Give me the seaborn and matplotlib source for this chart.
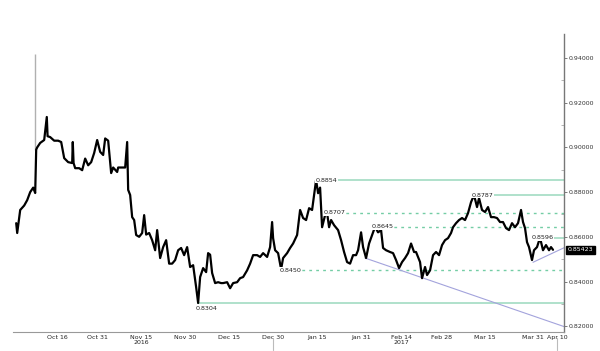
import numpy as np
import pandas as pd
import matplotlib
matplotlib.use("Agg")
import matplotlib.pyplot as plt
import matplotlib.transforms as mtrans
import seaborn as sns

# EUR/GBP path: business days after 2016-10-03 and price
start_date = "2016-10-03"
day_offset = [
    -0.25, 0, 0.75, 1.75, 2.5, 3.25, 4, 4.5, 4.75, 5, 5.75, 6.75, 7.4, 7.6, 8.25, 9.25,
    10.25, 11, 11.75, 12.75, 13.75, 13.9, 14.1, 14.5, 15.5, 16.25, 17, 17.75, 18.5, 19.25,
    20, 20.75, 21.5, 22, 22.75, 23.5, 24, 25, 25.25, 26.25, 27, 27.5, 27.75, 28.25, 28.75,
    29.25, 29.75, 30.5, 31.25, 31.75, 32.25, 33, 33.75, 34.5, 35, 35.75, 36.5, 37.25, 38,
    38.75, 39.5, 40.25, 41, 41.75, 42.5, 43.25, 44, 44.75, 45.25, 45.75, 46.5, 47.25, 47.75,
    48.25, 48.75, 49.5, 50.25, 51, 51.5, 52.5, 53.25, 54, 55, 55.75, 56.5, 57.5, 58.25, 59,
    60, 60.75, 61.5, 62.5, 63.25, 63.75, 64, 64.5, 65.25, 66, 66.5, 67.5, 68.25, 69, 70,
    70.75, 71.5, 72.25, 73, 73.75, 74.75, 75.25, 75.75, 76.25, 77, 77.5, 78, 78.5, 79.25,
    80.25, 81, 81.75, 82.5, 83.25, 84, 84.75, 85.25, 86, 86.5, 87.25, 88, 88.75, 89.5,
    90.25, 91, 91.5, 92.25, 93.25, 94, 94.75, 95.5, 96.25, 97, 97.75, 98.5, 99.25, 99.75,
    100.25, 100.75, 101.25, 102, 102.5, 103.25, 104, 104.75, 105.5, 106.25, 107, 107.75,
    108.5, 109, 109.75, 110.5, 111.25, 112, 112.75, 113.5, 114.25, 115, 115.5, 116.25, 117,
    117.75, 118.5, 119.25, 120, 120.75, 121.5, 122.25, 123, 123.75, 124.5, 125.25, 126,
    126.5, 127, 127.5, 128, 128.75, 129.25, 130, 130.75, 131.5, 132.25, 133, 133.5, 134,
]
price = [
    0.8661, 0.8617, 0.8720, 0.8740, 0.8764, 0.8800, 0.8820, 0.8796, 0.8990, 0.9000, 0.9020,
    0.9033, 0.9136, 0.9050, 0.9046, 0.9030, 0.9030, 0.9024, 0.8952, 0.8934, 0.8930, 0.9024,
    0.8930, 0.8907, 0.8907, 0.8898, 0.8950, 0.8920, 0.8934, 0.8975, 0.9033, 0.8980, 0.8966,
    0.9040, 0.9030, 0.8885, 0.8910, 0.8890, 0.8910, 0.8910, 0.8910, 0.9024, 0.8810, 0.8787,
    0.8688, 0.8675, 0.8608, 0.8600, 0.8617, 0.8697, 0.8610, 0.8617, 0.8585, 0.8540, 0.8630,
    0.8505, 0.8554, 0.8585, 0.8480, 0.8480, 0.8496, 0.8540, 0.8550, 0.8518, 0.8554, 0.8465,
    0.8473, 0.8375, 0.8304, 0.8420, 0.8460, 0.8442, 0.8527, 0.8520, 0.8438, 0.8393, 0.8397,
    0.8393, 0.8393, 0.8397, 0.8370, 0.8393, 0.8397, 0.8415, 0.8420, 0.8450, 0.8480, 0.8518,
    0.8518, 0.8510, 0.8527, 0.8510, 0.8554, 0.8666, 0.8594, 0.8540, 0.8527, 0.8455, 0.8505,
    0.8527, 0.8550, 0.8570, 0.8608, 0.8720, 0.8684, 0.8675, 0.8728, 0.8720, 0.8854, 0.8795,
    0.8820, 0.8643, 0.8697, 0.8707, 0.8643, 0.8675, 0.8652, 0.8630, 0.8585, 0.8532, 0.8487,
    0.8480, 0.8518, 0.8518, 0.8540, 0.8620, 0.8554, 0.8505, 0.8570, 0.8608, 0.8645, 0.8620,
    0.8630, 0.8550, 0.8540, 0.8532, 0.8527, 0.8496, 0.8460, 0.8487, 0.8505, 0.8527, 0.8570,
    0.8532, 0.8532, 0.8510, 0.8487, 0.8415, 0.8465, 0.8429, 0.8450, 0.8518, 0.8532, 0.8518,
    0.8563, 0.8585, 0.8594, 0.8617, 0.8643, 0.8661, 0.8675, 0.8684, 0.8675, 0.8706, 0.8755,
    0.8787, 0.8733, 0.8773, 0.8720, 0.8711, 0.8733, 0.8688, 0.8688, 0.8684, 0.8666, 0.8666,
    0.8639, 0.8630, 0.8661, 0.8643, 0.8661, 0.8720, 0.8666, 0.8639, 0.8576, 0.8554, 0.8496,
    0.8540, 0.8554, 0.8596, 0.8540, 0.8563, 0.8540, 0.8554, 0.8542,
]
last_price = 0.85423

# flash crash spike (Oct 7)
spike_offset = [4.5]
spike_lows = [0.899]
spike_highs = [0.9417]

# support / resistance levels
level_values = [0.8854, 0.8787, 0.8707, 0.8645, 0.8596, 0.8450, 0.8304]
level_starts = ["2017-01-16", "2017-03-10", "2017-01-18", "2017-02-03",
                "2017-03-31", "2017-01-03", "2016-12-05"]
level_dotted = [False, False, True, True, False, True, False]

# trend lines
trend_dates = [["2017-02-01", "2017-04-12"], ["2017-03-31", "2017-04-12"]]
trend_values = [[0.8505, 0.8197], [0.8486, 0.8553]]

tick_dates = ["2016-10-16", "2016-10-31", "2016-11-15", "2016-11-30", "2016-12-15",
              "2016-12-30", "2017-01-15", "2017-01-31", "2017-02-14", "2017-02-28",
              "2017-03-15", "2017-03-31", "2017-04-10"]
tick_labels = ["Oct 16", "Oct 31", "Nov 15\n2016", "Nov 30", "Dec 15", "Dec 30",
               "Jan 15", "Jan 31", "Feb 14\n2017", "Feb 28", "Mar 15", "Mar 31", "Apr 10"]
separator_dates = ["2016-12-30", "2017-04-10"]
y_ticks = [0.82, 0.84, 0.86, 0.88, 0.90, 0.92, 0.94]

sns.set_style("white")
plt.rcParams['font.family'] = ['DejaVu Sans']

calendar = pd.bdate_range(start_date, "2017-05-31")
def pos(d):
    return calendar.searchsorted(pd.Timestamp(d))

df = pd.DataFrame({"pos": day_offset, "price": price})

fig = plt.figure(figsize=(6, 3.51), dpi=100)
ax = fig.add_axes([0.022, 0.054, 0.918, 0.849])

GREEN = "#9ad9bd"
GREEN_DOT = "#74cda5"
TREND = "#a3a3dc"

ax.vlines(spike_offset, spike_lows, spike_highs, color="#b0b0b0", lw=1.0, zorder=2)
sns.lineplot(data=df, x="pos", y="price", color="black", lw=1.6, ax=ax, zorder=3,
             sort=False, estimator=None)

for v, s, dotted in zip(level_values, level_starts, level_dotted):
    x0 = pos(s)
    ax.hlines(v, x0, 140, color=GREEN_DOT if dotted else GREEN,
              lw=1.0 if dotted else 1.1, linestyles=(0, (2, 3)) if dotted else "solid", zorder=1)
    label = f"{v:.4f}"
    if v == min(level_values):
        ax.text(x0 - 0.3, v - 0.0012, label, fontsize=4.6, va="top", ha="left", color="#222", zorder=4)
    else:
        ax.text(x0 - 0.3, v, label, fontsize=4.6, va="center", ha="left", color="#222", zorder=4,
                bbox=dict(fc="white", ec="none", pad=0.3))

for dd, vv in zip(trend_dates, trend_values):
    ax.plot([pos(d) for d in dd], vv, color=TREND, lw=0.8, zorder=1)

ax.set_xlim(-1, 136.75)
ax.set_ylim(0.8174, 0.9507)

ax.set_xticks([pos(d) for d in tick_dates])
ax.set_xticklabels(tick_labels, fontsize=4.5, color="#222", linespacing=0.95)
ax.set_xticks([0] + list(range(6, 136, 10)), minor=True)
ax.tick_params(axis="x", which="major", length=0, pad=2)
ax.tick_params(axis="x", which="minor", length=2, width=0.6, color="#888", direction="out")

ax.yaxis.tick_right()
ax.set_yticks(y_ticks)
ax.set_yticklabels([f"{t:.5f}" for t in y_ticks], fontsize=4.5, color="#333")
ax.set_yticks(np.arange(0.83, 0.95, 0.02), minor=True)
ax.tick_params(axis="y", which="major", length=2, width=0.6, color="#666", pad=1, direction="out")
ax.tick_params(axis="y", which="minor", length=2, width=0.5, color="#999", direction="in")

for side in ["top", "left"]:
    ax.spines[side].set_visible(False)
ax.spines["right"].set_color("#777")
ax.spines["right"].set_linewidth(1.0)
ax.spines["bottom"].set_color("#999")
ax.spines["bottom"].set_linewidth(0.8)
ax.set_xlabel("")
ax.set_ylabel("")

# year separators below the axis
sep_tr = mtrans.blended_transform_factory(ax.transData, ax.transAxes)
for d in separator_dates:
    ax.plot([pos(d), pos(d)], [-0.02, -0.06], color="#bbb", lw=0.8, transform=sep_tr, clip_on=False)

# last price tag
tag_tr = mtrans.blended_transform_factory(ax.transAxes, ax.transData)
ax.text(1.006, last_price, f"{last_price:.5f}", transform=tag_tr, fontsize=4.5, color="white",
        va="center", ha="left", bbox=dict(fc="black", ec="black", pad=1.2))

fig.savefig("out.png", dpi=100)
